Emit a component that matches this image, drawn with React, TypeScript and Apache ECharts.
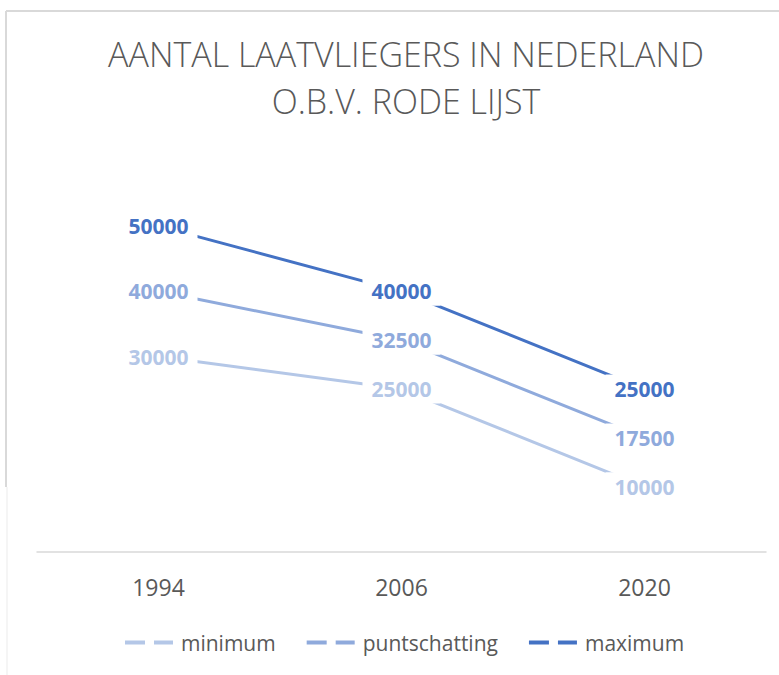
import React, { useEffect, useRef } from "react";
import * as echarts from "echarts";

const years = ["1994", "2006", "2020"];
const seriesNames = ["minimum", "puntschatting", "maximum"];
const minimumValues = [30000, 25000, 10000];
const puntschattingValues = [40000, 32500, 17500];
const maximumValues = [50000, 40000, 25000];
const titleLines = ["AANTAL LAATVLIEGERS IN NEDERLAND", "O.B.V. RODE LIJST"];

const colors = ["#B4C7E7", "#8FAADC", "#4472C4"];
const FONT = "'Open Sans', sans-serif";

export default function App() {
  const ref = useRef<HTMLDivElement>(null);
  useEffect(() => {
    if (!ref.current) return;
    const chart = echarts.init(ref.current, null, { renderer: "svg" });
    const allValues = [minimumValues, puntschattingValues, maximumValues];
    const legendIcon = "path://M0,0H20V4H0Z M29,0H48V4H29Z";
    chart.setOption({
      animation: false,
      backgroundColor: "#ffffff",
      title: {
        text: titleLines.join("\n"),
        left: 401,
        top: 25,
        textAlign: "center",
        textStyle: {
          fontFamily: FONT,
          fontWeight: 300,
          fontSize: 34,
          lineHeight: 47,
          color: "#595959",
        },
      },
      legend: {
        left: 120,
        top: 627,
        itemGap: 31,
        itemWidth: 48,
        itemHeight: 4,
        icon: legendIcon,
        textStyle: {
          fontFamily: FONT,
          fontSize: 21,
          color: "#595959",
          padding: [0, 0, 0, 3],
        },
        data: seriesNames,
      },
      grid: { left: 37, right: 13, top: 161, bottom: 123 },
      xAxis: {
        type: "category",
        data: years,
        boundaryGap: true,
        axisLine: { lineStyle: { color: "#d9d9d9", width: 1.5 } },
        axisTick: { show: false },
        axisLabel: {
          margin: 23,
          fontFamily: FONT,
          fontSize: 23,
          color: "#595959",
        },
      },
      yAxis: {
        type: "value",
        min: 0,
        max: 60000,
        show: false,
        splitLine: { show: false },
      },
      graphic: [
        {
          type: "line",
          shape: { x1: 6, y1: 11, x2: 779, y2: 11 },
          style: { stroke: "#d9d9d9", lineWidth: 2 },
        },
        {
          type: "line",
          shape: { x1: 6, y1: 11, x2: 6, y2: 487 },
          style: { stroke: "#d9d9d9", lineWidth: 2 },
        },
        {
          type: "line",
          shape: { x1: 7, y1: 487, x2: 7, y2: 675 },
          style: { stroke: "#ebebeb", lineWidth: 1 },
        },
      ],
      series: seriesNames.map((name, i) => ({
        name,
        type: "line",
        data: allValues[i],
        symbol: "circle",
        symbolSize: 0.1,
        showSymbol: true,
        lineStyle: { color: colors[i], width: 3 },
        itemStyle: { color: colors[i] },
        z: 2 + i,
        label: {
          show: true,
          position: "inside",
          fontFamily: FONT,
          fontWeight: "bold",
          fontSize: 21,
          color: colors[i],
          backgroundColor: "#ffffff",
          padding: [4, 9],
        },
      })),
    });
    return () => chart.dispose();
  }, []);
  return (
    <div
      ref={ref}
      style={{ position: "absolute", left: 0, top: 0, width: 779, height: 675 }}
    />
  );
}
